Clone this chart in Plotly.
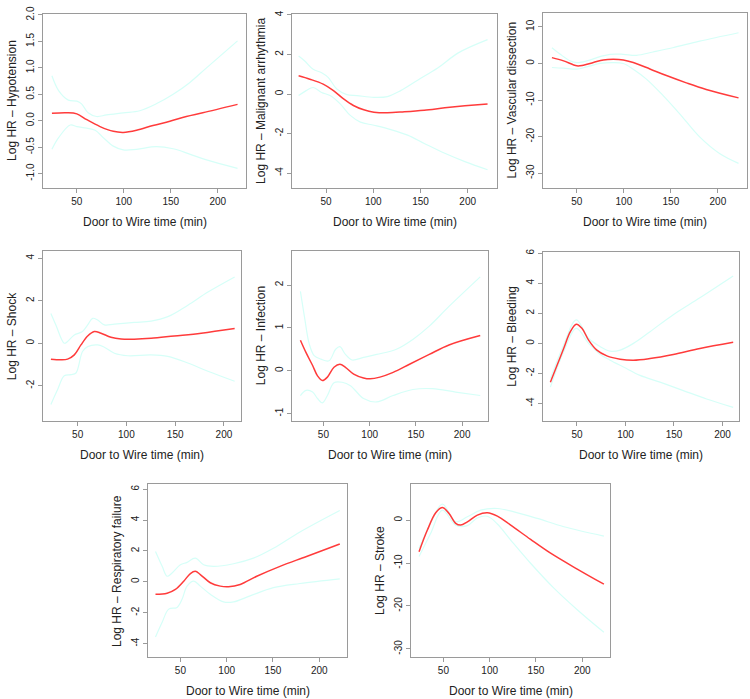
import plotly.graph_objects as go

W, H = 750, 699

# ---------------- data ----------------
hyp_x_est = [23.5, 39, 50, 60.6, 74.7, 88.8, 99.4, 113.5, 131, 149, 166.5, 184, 221]
hyp_est = [0.14, 0.15, 0.13, 0.02, -0.11, -0.2, -0.22, -0.18, -0.09, -0.01, 0.08, 0.15, 0.31]
hyp_x_up = [23.5, 30.6, 41, 50, 55, 62, 71, 81.6, 99.4, 117, 134.5, 152.5, 170, 188, 221]
hyp_up = [0.85, 0.57, 0.39, 0.37, 0.32, 0.15, 0.08, 0.11, 0.15, 0.19, 0.32, 0.50, 0.72, 1.0, 1.51]
hyp_x_lo = [23.5, 30.6, 43, 50, 60.6, 69.5, 78.2, 88.8, 99.4, 113.5, 134.5, 152.5, 170, 188, 221]
hyp_lo = [-0.54, -0.32, -0.08, -0.11, -0.14, -0.18, -0.32, -0.48, -0.55, -0.54, -0.49, -0.53, -0.63, -0.74, -0.9]

arr_x_est = [21, 32.9, 47, 57.9, 68.6, 79, 90, 100.7, 115, 132.9, 154, 175.7, 197, 221]
arr_est = [0.92, 0.75, 0.5, 0.17, -0.25, -0.58, -0.8, -0.92, -0.95, -0.9, -0.82, -0.7, -0.6, -0.5]
arr_x_up = [21, 27.5, 36.4, 45.4, 52.5, 61.4, 72, 82.9, 100.7, 115, 129, 147, 168.6, 190, 221]
arr_up = [1.92, 1.67, 1.25, 1.08, 0.83, 0.25, -0.03, -0.08, -0.17, -0.13, 0.17, 0.7, 1.33, 2.08, 2.75]
arr_x_lo = [21, 29, 36.4, 45.4, 54.3, 65, 75.7, 86.4, 100.7, 118.6, 136.4, 154, 175.7, 197, 221]
arr_lo = [-0.08, 0.17, 0.33, 0.08, -0.08, -0.5, -1.08, -1.42, -1.58, -1.8, -2.08, -2.5, -3.0, -3.42, -3.83]

vas_x_est = [23.5, 35.9, 50, 57, 67.6, 78.2, 88.8, 99.4, 110, 127.7, 145.3, 166.5, 187.6, 222]
vas_est = [1.6, 0.7, -0.65, -0.47, 0.25, 0.97, 1.15, 0.97, 0.25, -1.5, -3.3, -5.3, -7.1, -9.4]
vas_x_up = [23.5, 32.4, 43, 50, 60.6, 74.7, 85.3, 99.4, 113.5, 131, 152, 180.6, 222]
vas_up = [4.3, 2.5, 0.7, 0.25, 0.7, 1.87, 2.5, 2.5, 2.23, 3.14, 4.3, 6.1, 8.4]
vas_x_lo = [23.5, 35.9, 50, 60.6, 74.7, 88.8, 99.4, 110, 124, 141.8, 159.4, 180.6, 201.8, 222]
vas_lo = [-1.1, -1.29, -1.56, -0.93, 0.0, 0.25, 0.0, -1.56, -4.27, -8.78, -13.75, -20.07, -24.6, -27.3]

sho_x_est = [22.6, 32.9, 39.7, 46.6, 53.4, 60.3, 67.1, 74, 84.2, 94.5, 108, 125.3, 149, 176.7, 211]
sho_est = [-0.75, -0.78, -0.75, -0.55, -0.08, 0.34, 0.55, 0.47, 0.28, 0.2, 0.19, 0.23, 0.34, 0.47, 0.69]
sho_x_up = [22.6, 27.7, 36.3, 39.7, 46.6, 55, 60.3, 65.4, 70.5, 77.4, 87.7, 108, 125.3, 142.5, 163, 183.6, 211]
sho_up = [1.4, 0.86, 0.0, 0.08, 0.39, 0.55, 0.86, 1.17, 1.09, 0.86, 0.9, 0.98, 1.04, 1.25, 1.79, 2.41, 3.12]
sho_x_lo = [22.6, 29.5, 36.3, 43.2, 48.3, 55, 60.3, 70.5, 77.4, 87.7, 101.4, 125.3, 142.5, 163, 183.6, 211]
sho_lo = [-2.88, -2.18, -1.53, -1.48, -1.4, -0.39, -0.16, -0.08, -0.19, -0.47, -0.59, -0.55, -0.62, -0.93, -1.32, -1.79]

inf_x_est = [25.1, 31.2, 38.3, 43.6, 48.9, 54.3, 61.4, 67.8, 73.8, 82.7, 93.4, 100.5, 111.1, 125.4, 143.1, 164.5, 185.8, 219.6]
inf_est = [0.71, 0.42, 0.12, -0.12, -0.23, -0.15, 0.08, 0.15, 0.08, -0.08, -0.17, -0.19, -0.15, -0.04, 0.15, 0.38, 0.6, 0.82]
inf_x_up = [25.1, 29.4, 34.7, 40, 47.2, 56, 63.2, 67.8, 73.8, 80.9, 93.4, 107.6, 128.9, 146.7, 164.5, 185.8, 219.6]
inf_up = [1.85, 1.27, 0.62, 0.35, 0.27, 0.23, 0.5, 0.56, 0.38, 0.25, 0.31, 0.38, 0.5, 0.73, 1.04, 1.5, 2.19]
inf_x_lo = [25.1, 31.2, 38.3, 43.6, 48.9, 54.3, 61.4, 70.3, 79.2, 93.4, 107.6, 125.4, 146.7, 168, 193, 219.6]
inf_lo = [-0.58, -0.46, -0.5, -0.65, -0.75, -0.58, -0.28, -0.27, -0.35, -0.65, -0.73, -0.58, -0.44, -0.42, -0.5, -0.58]

ble_x_est = [22.6, 29.5, 36.3, 43.2, 49.3, 55.1, 62, 70.5, 80.8, 94.5, 108.2, 125.3, 149.3, 176.7, 211]
ble_est = [-2.58, -1.46, -0.34, 0.78, 1.28, 1.01, 0.22, -0.45, -0.83, -1.05, -1.12, -1.01, -0.74, -0.34, 0.07]
ble_x_up = [22.6, 36.3, 49.3, 62, 74, 84.2, 94.5, 108.2, 125.3, 149.3, 176.7, 211]
ble_up = [-2.35, -0.1, 1.57, 0.34, -0.22, -0.52, -0.45, 0.0, 0.78, 1.91, 3.03, 4.48]
ble_x_lo = [22.6, 36.3, 49.3, 62, 74, 84.2, 97.9, 115, 135.6, 159.6, 183.6, 211]
ble_lo = [-2.91, -0.55, 1.0, 0.0, -0.74, -1.12, -1.57, -2.13, -2.58, -3.14, -3.7, -4.26]

res_x_est = [23.1, 35.6, 44.6, 53.6, 60.8, 66.1, 71.5, 82.3, 93.1, 102, 114.6, 132.5, 157.6, 186.3, 222.2]
res_est = [-0.81, -0.74, -0.49, 0.04, 0.53, 0.68, 0.47, -0.06, -0.28, -0.32, -0.17, 0.36, 1.0, 1.64, 2.45]
res_x_up = [23.1, 30.3, 35.6, 41, 50, 57.2, 66.1, 75.1, 85.8, 107.4, 128.9, 150.5, 179.2, 222.2]
res_up = [1.96, 1.0, 0.36, 0.57, 1.1, 1.26, 1.53, 1.1, 1.0, 1.17, 1.53, 2.17, 3.23, 4.62]
res_x_lo = [23.1, 30.3, 37.4, 46.4, 51.8, 57.2, 64.4, 71.5, 82.3, 96.6, 107.4, 125.3, 150.5, 179.2, 222.2]
res_lo = [-3.57, -2.62, -1.77, -1.66, -1.13, -0.28, 0.04, -0.28, -0.81, -1.3, -1.3, -0.91, -0.38, -0.11, 0.19]

str_x_est = [23.7, 32.7, 41.7, 48.9, 56.1, 63.3, 68.7, 75.9, 86.7, 97.5, 108.3, 122.7, 144.2, 165.8, 194.6, 223.4]
str_est = [-7.35, -2.32, 1.7, 2.94, 1.55, -0.77, -1.16, -0.39, 1.16, 1.7, 0.93, -1.16, -4.49, -7.7, -11.4, -14.93]
str_x_up = [23.7, 36, 48.9, 63.3, 75.9, 90.3, 108.3, 126.3, 151.5, 180.2, 223.4]
str_up = [-6.57, -0.8, 3.71, -0.39, 0.77, 2.32, 2.71, 1.93, 0.39, -1.55, -3.71]
str_x_lo = [23.7, 36, 48.9, 63.3, 75.9, 86.7, 97.5, 108.3, 122.7, 144.2, 169.4, 194.6, 223.4]
str_lo = [-8.5, -3.2, 2.32, -1.16, -1.3, 0.5, 0.9, -0.9, -4.64, -10.05, -15.85, -20.88, -26.14]

titles = ["Log HR \u2013 Hypotension", "Log HR \u2013 Malignant arrhythmia", "Log HR \u2013 Vascular dissection",
          "Log HR \u2013 Shock", "Log HR \u2013 Infection", "Log HR \u2013 Bleeding",
          "Log HR \u2013 Respiratory failure", "Log HR \u2013 Stroke"]
x_title = "Door to Wire time (min)"
x_ticks = [50, 100, 150, 200]
y_ticks = [
    [-1.0, -0.5, 0.0, 0.5, 1.0, 1.5, 2.0],
    [-4, -2, 0, 2, 4],
    [-30, -20, -10, 0, 10],
    [-2, 0, 2, 4],
    [-1, 0, 1, 2],
    [-4, -2, 0, 2, 4, 6],
    [-4, -2, 0, 2, 4, 6],
    [-30, -20, -10, 0],
]
y_tick_text = [
    ["-1.0", "-0.5", "0.0", "0.5", "1.0", "1.5", "2.0"],
    ["-4", "-2", "0", "2", "4"],
    ["-30", "-20", "-10", "0", "10"],
    ["-2", "0", "2", "4"],
    ["-1", "0", "1", "2"],
    ["-4", "-2", "0", "2", "4", "6"],
    ["-4", "-2", "0", "2", "4", "6"],
    ["-30", "-20", "-10", "0"],
]

panels = [
    (hyp_x_est, hyp_est, hyp_x_up, hyp_up, hyp_x_lo, hyp_lo),
    (arr_x_est, arr_est, arr_x_up, arr_up, arr_x_lo, arr_lo),
    (vas_x_est, vas_est, vas_x_up, vas_up, vas_x_lo, vas_lo),
    (sho_x_est, sho_est, sho_x_up, sho_up, sho_x_lo, sho_lo),
    (inf_x_est, inf_est, inf_x_up, inf_up, inf_x_lo, inf_lo),
    (ble_x_est, ble_est, ble_x_up, ble_up, ble_x_lo, ble_lo),
    (res_x_est, res_est, res_x_up, res_up, res_x_lo, res_lo),
    (str_x_est, str_est, str_x_up, str_up, str_x_lo, str_lo),
]

# ---------------- layout (pixel boxes) ----------------
boxes = [  # left, right, top, bottom in pixels
    (43, 246, 6, 182), (292, 497, 6, 182), (543, 747, 5, 182),
    (43, 241, 246, 418), (292, 488, 246, 418), (543, 739, 247, 418),
    (148, 347, 482, 657), (411, 610, 482, 657),
]
x_ranges = [[14, 230], [14, 231], [14, 231], [14.5, 217.5], [16, 228], [15, 217], [15, 230], [15, 230]]
y_ranges = [[-1.27, 2.02], [-4.75, 4.05], [-34, 13.8], [-3.67, 4.33], [-1.18, 2.79],
            [-5.18, 6.07], [-4.9, 6.3], [-32, 8.3]]

RED = "#ff3b3b"
CI = "#d6fff8"
GRID = "#9a9a9a"
FONT = "Liberation Sans, Arial, sans-serif"

fig = go.Figure()
layout = dict(
    width=W, height=H, margin=dict(l=0, r=0, t=0, b=0),
    paper_bgcolor="white", plot_bgcolor="white", showlegend=False,
    font=dict(family=FONT, size=10, color="#222"),
)
annotations = []
for i, (p, box) in enumerate(zip(panels, boxes)):
    n = i + 1
    xa = "x" if n == 1 else f"x{n}"
    ya = "y" if n == 1 else f"y{n}"
    xe, ye, xu, yu, xl, yl = p
    for xs, ys, col, wd in [(xu, yu, CI, 1.2), (xl, yl, CI, 1.2), (xe, ye, RED, 1.5)]:
        fig.add_trace(go.Scatter(x=xs, y=ys, mode="lines", xaxis=xa, yaxis=ya,
                                 line=dict(color=col, width=wd, shape="spline", smoothing=1.0),
                                 hoverinfo="skip"))
    l, r, t, b = box
    common = dict(showgrid=False, zeroline=False, showline=True, mirror=True,
                  linecolor=GRID, linewidth=1, ticks="outside", ticklen=4,
                  tickcolor=GRID, tickwidth=1, tickfont=dict(size=10, color="#222", family=FONT))
    layout["xaxis" if n == 1 else f"xaxis{n}"] = dict(
        domain=[l / W, r / W], range=x_ranges[i], anchor=ya,
        tickvals=x_ticks, ticktext=[str(v) for v in x_ticks], **common)
    layout["yaxis" if n == 1 else f"yaxis{n}"] = dict(
        domain=[1 - b / H, 1 - t / H], range=y_ranges[i], anchor=xa,
        tickvals=y_ticks[i], ticktext=y_tick_text[i], tickangle=-90, **common)
    annotations.append(dict(text=titles[i], xref="paper", yref="paper",
                            x=(l - 31) / W, y=1 - (t + b) / 2 / H, textangle=-90,
                            xanchor="center", yanchor="middle", showarrow=False,
                            font=dict(size=12, color="#222", family=FONT)))
    annotations.append(dict(text=x_title, xref="paper", yref="paper",
                            x=(l + r) / 2 / W, y=1 - (b + 34) / H,
                            xanchor="center", yanchor="middle", showarrow=False,
                            font=dict(size=12, color="#222", family=FONT)))
layout["annotations"] = annotations
fig.update_layout(**layout)
fig.write_html("out.html")
